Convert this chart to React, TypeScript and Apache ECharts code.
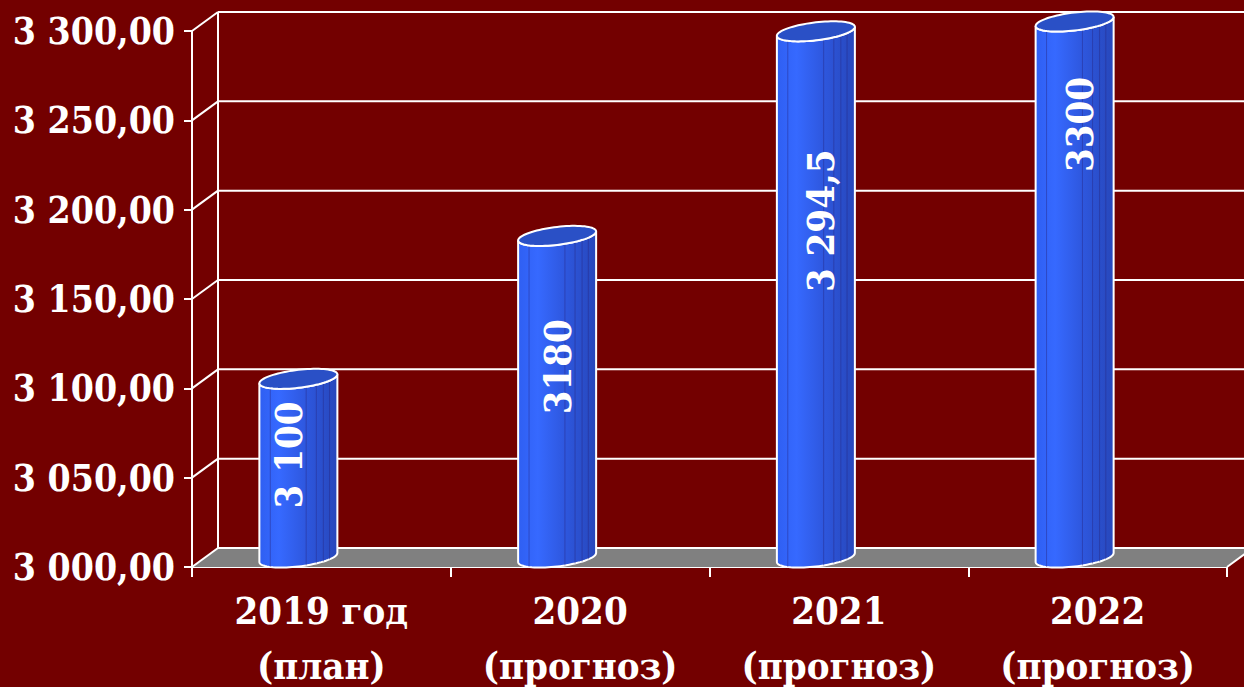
import React, { useEffect, useRef } from "react";
import * as echarts from "echarts";

const categories = ["2019 год\n(план)", "2020\n(прогноз)", "2021\n(прогноз)", "2022\n(прогноз)"];
const values = [3100, 3180, 3294.5, 3300];
const valueLabels = ["3 100", "3180", "3 294,5", "3300"];
const yTicks = [3000, 3050, 3100, 3150, 3200, 3250, 3300];
const yTickLabels = ["3 000,00", "3 050,00", "3 100,00", "3 150,00", "3 200,00", "3 250,00", "3 300,00"];

// layout constants (not data)
const labelFrac = [0.574, 0.593, 0.64, 0.808];
const labelDx = [-10, 0, 5, 5];
const DEPTH_X = 26;
const DEPTH_Y = -19;
const BAR_SHIFT = -23;
const BAR_RX = 39;
const CAP_RY = 9;
const SHEAR = 0.115;

const FONT = "'DejaVu Serif Condensed', 'DejaVu Serif', serif";

export default function App() {
  const ref = useRef<HTMLDivElement>(null);
  useEffect(() => {
    document.body.style.margin = "0";
    const chart = echarts.init(ref.current!, null, { renderer: "svg" });

    const frameRender = (params: any, api: any) => {
      const cs = params.coordSys;
      const x0 = cs.x, y0 = cs.y, w = cs.width, h = cs.height;
      const children: any[] = [];
      const line = (x1: number, y1: number, x2: number, y2: number) => ({
        type: "line",
        shape: { x1, y1, x2, y2 },
        style: { stroke: "#ffffff", lineWidth: 2 },
      });
      children.push({
        type: "polygon",
        shape: {
          points: [
            [x0, y0 + h],
            [x0 + w, y0 + h],
            [x0 + w + DEPTH_X, y0 + h + DEPTH_Y],
            [x0 + DEPTH_X, y0 + h + DEPTH_Y],
          ],
        },
        style: { fill: "#808080" },
      });
      yTicks.forEach((v) => {
        const yf = api.coord([0, v])[1];
        children.push(line(x0 + DEPTH_X, yf + DEPTH_Y, x0 + w + DEPTH_X + 40, yf + DEPTH_Y));
        children.push(line(x0, yf, x0 + DEPTH_X, yf + DEPTH_Y));
      });
      children.push(line(x0 + DEPTH_X, y0 + DEPTH_Y, x0 + DEPTH_X, y0 + h + DEPTH_Y));
      children.push(line(x0 + w, y0 + h, x0 + w + DEPTH_X, y0 + h + DEPTH_Y));
      return { type: "group", children };
    };

    const barRender = (params: any, api: any) => {
      const i = api.value(0);
      const v = api.value(1);
      const top = api.coord([i, v]);
      const base = api.coord([i, yTicks[0]]);
      const cx = top[0] + BAR_SHIFT;
      const ty = top[1] + DEPTH_Y / 2;
      const by = base[1] + DEPTH_Y / 2;
      const pt = (t: number, yc: number) => {
        const x = cx + BAR_RX * Math.cos(t);
        const y = yc + CAP_RY * Math.sin(t) - SHEAR * (x - cx);
        return [x, y];
      };
      const N = 40;
      const body: number[][] = [];
      body.push(pt(Math.PI, ty));
      body.push(pt(Math.PI, by));
      for (let k = 0; k <= N; k++) body.push(pt(Math.PI - (Math.PI * k) / N, by));
      body.push(pt(0, ty));
      for (let k = 0; k <= N; k++) body.push(pt((Math.PI * k) / N, ty));
      const cap: number[][] = [];
      for (let k = 0; k < 2 * N; k++) cap.push(pt((2 * Math.PI * k) / (2 * N), ty));

      const facets = [0.14, 0.6, 0.73, 0.82, 0.9].map((f) => {
        const x = cx - BAR_RX + 2 * BAR_RX * f;
        const t = Math.acos((x - cx) / BAR_RX);
        const yTop = ty + CAP_RY * Math.sin(t) - SHEAR * (x - cx);
        const yBot = by + CAP_RY * Math.sin(t) - SHEAR * (x - cx);
        return {
          type: "line",
          shape: { x1: x, y1: yTop, x2: x, y2: yBot },
          style: { stroke: "rgba(40,40,130,0.45)", lineWidth: 1 },
        };
      });

      const lf = labelFrac[i];
      const ly = by - (by - ty) * lf;
      return {
        type: "group",
        children: [
          {
            type: "polygon",
            shape: { points: body },
            style: {
              fill: new echarts.graphic.LinearGradient(0, 0, 1, 0, [
                { offset: 0, color: "#2f5ff2" },
                { offset: 0.25, color: "#3669ff" },
                { offset: 0.6, color: "#2e57de" },
                { offset: 1, color: "#2747bb" },
              ]),
              stroke: "#ffffff",
              lineWidth: 2,
            },
          },
          ...facets,
          {
            type: "polygon",
            shape: { points: cap },
            style: { fill: "#2a50c6", stroke: "#ffffff", lineWidth: 2 },
          },
          {
            type: "text",
            x: cx + labelDx[i],
            y: ly,
            rotation: Math.PI / 2,
            style: {
              text: valueLabels[i],
              fill: "#ffffff",
              font: `bold 38px ${FONT}`,
              align: "center",
              verticalAlign: "middle",
            },
          },
        ],
      };
    };

    chart.setOption({
      animation: false,
      backgroundColor: "#730000",
      grid: {
        left: 192,
        right: 17,
        top: 31,
        bottom: 120,
        containLabel: false,
        outerBoundsMode: "none",
      },
      xAxis: {
        type: "category",
        data: categories,
        axisLine: { show: true, lineStyle: { color: "#ffffff", width: 2 } },
        axisTick: { show: true, length: 10, inside: false, lineStyle: { color: "#ffffff", width: 2 } },
        axisLabel: {
          color: "#ffffff",
          fontFamily: FONT,
          fontWeight: "bold",
          fontSize: 38,
          lineHeight: 55,
          margin: 16,
          interval: 0,
        },
      },
      yAxis: {
        type: "value",
        min: 3000,
        max: 3300,
        interval: 50,
        axisLine: { show: true, lineStyle: { color: "#ffffff", width: 2 } },
        axisTick: { show: true, length: 8, lineStyle: { color: "#ffffff", width: 2 } },
        splitLine: { show: false },
        axisLabel: {
          color: "#ffffff",
          fontFamily: FONT,
          fontWeight: "bold",
          fontSize: 37,
          margin: 17,
          formatter: (v: number) => yTickLabels[yTicks.indexOf(v)] ?? "",
        },
      },
      series: [
        {
          type: "custom",
          name: "frame",
          z: 1,
          silent: true,
          renderItem: frameRender,
          data: [[0, yTicks[0]]],
          clip: false,
        },
        {
          type: "custom",
          name: "bars",
          z: 3,
          renderItem: barRender,
          data: values.map((v, i) => [i, v]),
          encode: { x: 0, y: 1 },
          clip: false,
        },
      ],
    });
    return () => chart.dispose();
  }, []);
  return <div ref={ref} style={{ width: 1244, height: 687 }} />;
}
